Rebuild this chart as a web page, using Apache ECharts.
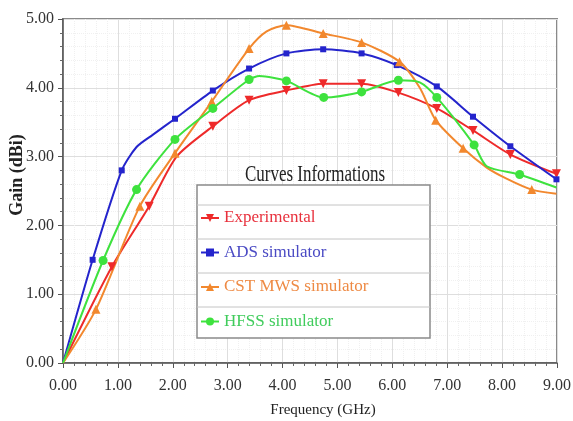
<!DOCTYPE html>
<html>
<head>
<meta charset="utf-8">
<script src="https://cdn.jsdelivr.net/npm/echarts@6.0.0/dist/echarts.min.js"></script>
<style>html,body{margin:0;padding:0;background:#fff}#c{width:573px;height:421px}</style>
</head>
<body>
<div id="c"></div>
<script>
// ---- data ----
var seriesNames = ['Experimental', 'ADS simulator', 'CST MWS simulator', 'HFSS simulator'];
var xTicks = [0, 1, 2, 3, 4, 5, 6, 7, 8, 9];
var yTicks = [0, 1, 2, 3, 4, 5];

// marked (measured / sampled) points
var expFreq  = [0.89, 1.57, 2.73, 3.39, 4.07, 4.74, 5.44, 6.11, 6.81, 7.47, 8.15, 8.99];
var expGain  = [1.40, 2.28, 3.44, 3.82, 3.96, 4.06, 4.06, 3.93, 3.70, 3.38, 3.03, 2.75];
var adsFreq  = [0.54, 1.07, 2.04, 2.73, 3.39, 4.07, 4.74, 5.44, 6.08, 6.81, 7.47, 8.15, 8.99];
var adsGain  = [1.50, 2.80, 3.55, 3.96, 4.28, 4.50, 4.56, 4.50, 4.33, 4.02, 3.58, 3.15, 2.67];
var cstFreq  = [0.60, 1.40, 2.04, 2.71, 3.39, 4.07, 4.74, 5.44, 6.13, 6.79, 7.29, 8.54];
var cstGain  = [0.78, 2.28, 3.05, 3.80, 4.57, 4.91, 4.79, 4.66, 4.38, 3.53, 3.12, 2.52];
var hfssFreq = [0.73, 1.34, 2.04, 2.73, 3.39, 4.07, 4.75, 5.44, 6.11, 6.81, 7.49, 8.32];
var hfssGain = [1.49, 2.52, 3.25, 3.70, 4.12, 4.10, 3.86, 3.94, 4.11, 3.86, 3.17, 2.74];

// additional curve points without markers
var expCurveFreq  = [0, 2.07];
var expCurveGain  = [0, 3.00];
var adsCurveFreq  = [0, 1.34, 1.64];
var adsCurveGain  = [0, 3.14, 3.32];
var cstCurveFreq  = [0, 3.71, 6.50, 7.72, 8.08, 8.99];
var cstCurveGain  = [0, 4.82, 4.00, 2.84, 2.68, 2.46];
var hfssCurveFreq = [0, 3.58, 6.50, 7.72, 8.99];
var hfssCurveGain = [0, 4.17, 4.08, 2.86, 2.55];

// ---- styling ----
var colors = ['#ee2a2a', '#2424cc', '#f2882e', '#3ee23e'];
var legendTextColors = ['#e8303c', '#4a4ac4', '#ee8a44', '#40cc5c'];
var symbols = ['triangle', 'rect', 'triangle', 'circle'];
var symbolSizes = [9, 6, 9, 9];
var symbolRotates = [180, 0, 0, 0];
var SERIF = '"Liberation Serif", "Times New Roman", serif';

function buildData(mf, mg, cf, cg) {
  var pts = [];
  for (var i = 0; i < mf.length; i++) pts.push({ value: [mf[i], mg[i]] });
  for (var j = 0; j < cf.length; j++) pts.push({ value: [cf[j], cg[j]], symbol: 'none' });
  pts.sort(function (a, b) { return a.value[0] - b.value[0]; });
  return pts;
}
var allData = [
  buildData(expFreq, expGain, expCurveFreq, expCurveGain),
  buildData(adsFreq, adsGain, adsCurveFreq, adsCurveGain),
  buildData(cstFreq, cstGain, cstCurveFreq, cstCurveGain),
  buildData(hfssFreq, hfssGain, hfssCurveFreq, hfssCurveGain)
];

var series = seriesNames.map(function (n, i) {
  return {
    name: n,
    type: 'line',
    data: allData[i],
    smooth: 0.25,
    symbol: symbols[i],
    symbolSize: symbolSizes[i],
    symbolRotate: symbolRotates[i],
    showAllSymbol: true,
    lineStyle: { color: colors[i], width: 2 },
    itemStyle: { color: colors[i] },
    z: 3
  };
});

var chart = echarts.init(document.getElementById('c'), null, { renderer: 'canvas' });
chart.setOption({
  animation: false,
  backgroundColor: '#fff',
  grid: { left: 63, right: 16, top: 19, bottom: 58, containLabel: false, outerBoundsMode: 'none', show: true, borderColor: '#8a8a8a', borderWidth: 2, backgroundColor: 'transparent' },
  xAxis: {
    type: 'value', min: xTicks[0], max: xTicks[xTicks.length - 1], interval: 1,
    name: 'Frequency (GHz)', nameLocation: 'middle', nameGap: 40, nameMoveOverlap: false,
    nameTextStyle: { fontFamily: SERIF, fontSize: 15, color: '#222', padding: [0, 0, 0, 26] },
    axisLine: { show: true, lineStyle: { color: '#555', width: 1.5 } },
    axisTick: { show: true, inside: false, length: 5, lineStyle: { color: '#555' } },
    minorTick: { show: true, splitNumber: 5, length: 3, lineStyle: { color: '#666' } },
    axisLabel: { fontFamily: SERIF, fontSize: 16, color: '#333', margin: 15, formatter: function (v) { return v.toFixed(2); } },
    splitLine: { show: true, lineStyle: { color: '#dedede', width: 1 } },
    minorSplitLine: { show: true, lineStyle: { color: '#f0f0f0', width: 1, type: 'dotted' } }
  },
  yAxis: {
    type: 'value', min: yTicks[0], max: yTicks[yTicks.length - 1], interval: 1,
    name: 'Gain (dBi)', nameLocation: 'middle', nameGap: 37, nameMoveOverlap: false,
    nameTextStyle: { fontFamily: SERIF, fontSize: 18, fontWeight: 'bold', color: '#222', padding: [0, 0, 0, 32] },
    axisLine: { show: true, lineStyle: { color: '#555', width: 1.5 } },
    axisTick: { show: true, inside: false, length: 5, lineStyle: { color: '#555' } },
    minorTick: { show: true, splitNumber: 5, length: 3, lineStyle: { color: '#666' } },
    axisLabel: { fontFamily: SERIF, fontSize: 16, color: '#333', margin: 9, formatter: function (v) { return v.toFixed(2); } },
    splitLine: { show: true, lineStyle: { color: '#dedede', width: 1 } },
    minorSplitLine: { show: true, lineStyle: { color: '#f0f0f0', width: 1, type: 'dotted' } }
  },
  legend: {
    orient: 'vertical', left: 200, top: 209.5, padding: 0,
    itemWidth: 18, itemHeight: 10, itemGap: 17.5,
    selectedMode: false,
    textStyle: { fontFamily: SERIF, fontSize: 17, lineHeight: 17 },
    data: seriesNames.map(function (n, i) { return { name: n, textStyle: { color: legendTextColors[i] } }; }),
    z: 10
  },
  graphic: [
    { type: 'rect', z: 5, shape: { x: 197, y: 185, width: 233, height: 153 }, style: { fill: '#fff', stroke: '#8a8a8a', lineWidth: 1.5 } },
    { type: 'line', z: 6, shape: { x1: 197, y1: 205, x2: 430, y2: 205 }, style: { stroke: '#c4c4c4', lineWidth: 1 } },
    { type: 'line', z: 6, shape: { x1: 197, y1: 239, x2: 430, y2: 239 }, style: { stroke: '#c4c4c4', lineWidth: 1 } },
    { type: 'line', z: 6, shape: { x1: 197, y1: 273, x2: 430, y2: 273 }, style: { stroke: '#c4c4c4', lineWidth: 1 } },
    { type: 'line', z: 6, shape: { x1: 197, y1: 307, x2: 430, y2: 307 }, style: { stroke: '#c4c4c4', lineWidth: 1 } },
    { type: 'text', z: 6, x: 315, y: 175, scaleY: 1.3, style: { text: 'Curves Informations', fontFamily: SERIF, fontSize: 17, fill: '#222', textAlign: 'center', textVerticalAlign: 'middle' } }
  ],
  series: series
});
</script>
</body>
</html>
